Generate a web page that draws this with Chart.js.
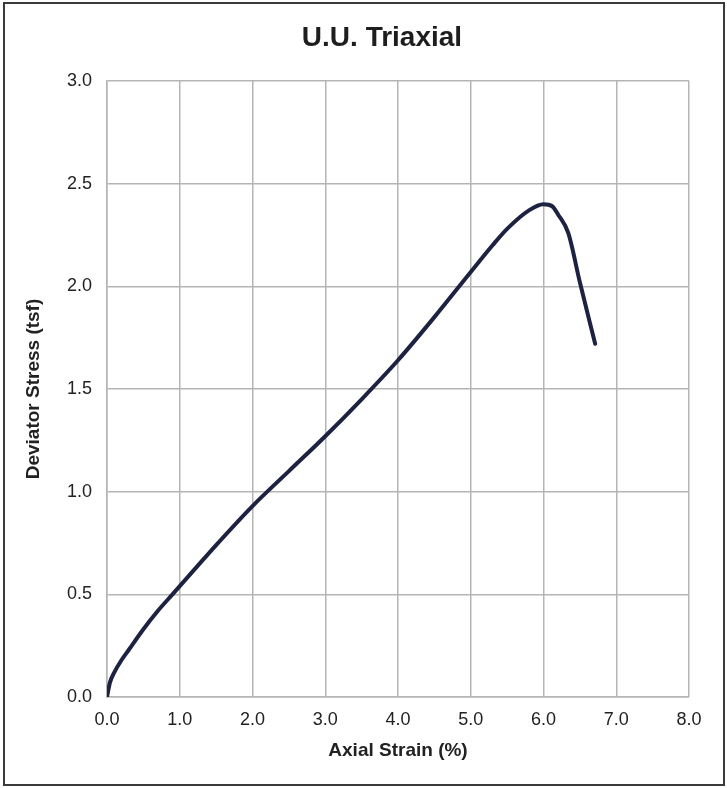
<!DOCTYPE html>
<html>
<head>
<meta charset="utf-8">
<script src="https://cdn.jsdelivr.net/npm/chart.js@4"></script>
<style>
  html, body { margin: 0; padding: 0; background: #fff; }
  #wrap { width: 727px; height: 788px; }
</style>
</head>
<body>
<div id="wrap"><canvas id="chart" width="727" height="788"></canvas></div>
<script>
// axial strain (%) vs deviator stress (tsf)
const strain = [0, 0.04, 0.1, 0.2, 0.3, 0.5, 0.7, 0.9, 1.0, 1.2, 1.5, 2.0, 2.5, 3.0, 3.5, 4.0, 4.5, 5.0, 5.3, 5.5, 5.8, 6.0, 6.12, 6.2, 6.34, 6.5, 6.71];
const stress = [0, 0.07, 0.12, 0.18, 0.23, 0.33, 0.42, 0.5, 0.54, 0.62, 0.74, 0.93, 1.1, 1.27, 1.45, 1.64, 1.85, 2.07, 2.2, 2.28, 2.37, 2.4, 2.39, 2.35, 2.26, 2.02, 1.72];

const chartTitle = "U.U. Triaxial";
const xTitle = "Axial Strain (%)";
const yTitle = "Deviator Stress (tsf)";

const points = strain.map((x, i) => ({ x: x, y: stress[i] }));

const FONT = "'Liberation Sans', Arial, sans-serif";

// frame round the whole picture plus the title text
const framePlugin = {
    id: "frame",
    afterDraw(chart) {
        const ctx = chart.ctx;
        ctx.save();
        ctx.strokeStyle = "#3a3a3a";
        ctx.lineWidth = 2;
        ctx.strokeRect(4, 3, 720, 782);
        ctx.fillStyle = "#1e1e1e";
        ctx.font = "bold 28px " + FONT;
        ctx.textAlign = "center";
        ctx.textBaseline = "middle";
        ctx.fillText(chartTitle, 382, 38);
        ctx.restore();
    }
};

new Chart(document.getElementById("chart"), {
    type: "scatter",
    data: {
        datasets: [{
            data: points,
            showLine: true,
            borderColor: "#1c2240",
            borderWidth: 4,
            pointRadius: 0,
            cubicInterpolationMode: "monotone",
            borderCapStyle: "round",
            borderJoinStyle: "round"
        }]
    },
    options: {
        responsive: false,
        animation: false,
        layout: { padding: { top: 81, left: 14, right: 38, bottom: 0 } },
        plugins: {
            legend: { display: false },
            tooltip: { enabled: false }
        },
        scales: {
            x: {
                type: "linear",
                min: 0,
                max: 8,
                afterFit: s => { s.height = 91; },
                ticks: {
                    stepSize: 1,
                    padding: 12,
                    color: "#222",
                    font: { family: FONT, size: 18 },
                    callback: v => v.toFixed(1)
                },
                grid: { color: "#b5b5b5", lineWidth: 1.5, drawTicks: false },
                border: { color: "#b5b5b5", width: 1.5 },
                title: {
                    display: true,
                    text: xTitle,
                    color: "#222",
                    font: { family: FONT, size: 19, weight: "bold" },
                    padding: { top: 0, bottom: 26 }
                }
            },
            y: {
                min: 0,
                max: 3,
                afterFit: s => { s.width = 93; },
                ticks: {
                    stepSize: 0.5,
                    padding: 15,
                    color: "#222",
                    font: { family: FONT, size: 18 },
                    callback: v => v.toFixed(1)
                },
                grid: { color: "#b5b5b5", lineWidth: 1.5, drawTicks: false },
                border: { color: "#b5b5b5", width: 1.5 },
                title: {
                    display: true,
                    text: yTitle,
                    color: "#222",
                    font: { family: FONT, size: 19, weight: "bold" },
                    padding: { top: 8, bottom: 0 }
                }
            }
        }
    },
    plugins: [framePlugin]
});
</script>
</body>
</html>
